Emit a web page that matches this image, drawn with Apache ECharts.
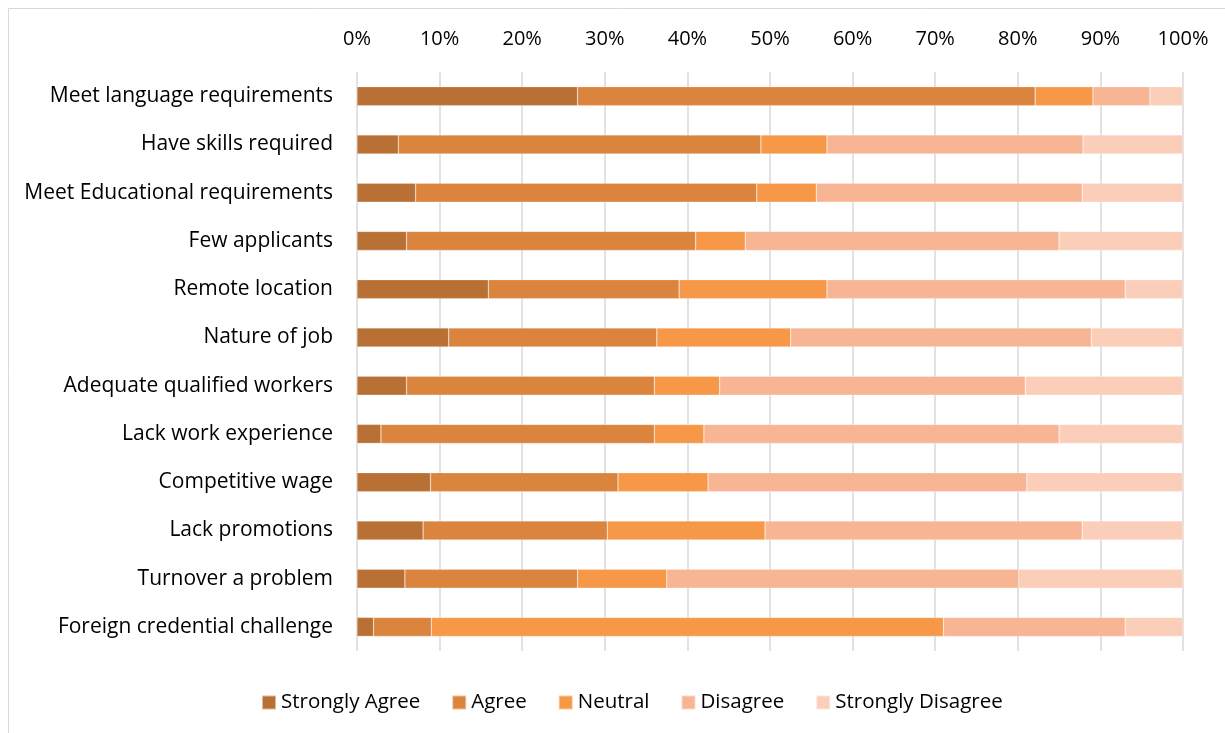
<!DOCTYPE html>
<html>
<head>
<meta charset="utf-8">
<script src="https://cdn.jsdelivr.net/npm/echarts@6/dist/echarts.min.js"></script>
<style>
  html, body { margin: 0; padding: 0; background: #fff; }
  #chart { width: 1225px; height: 733px; }
</style>
</head>
<body>
<div id="chart"></div>
<script>
const categories = [
  'Meet language requirements',
  'Have skills required',
  'Meet Educational requirements',
  'Few applicants',
  'Remote location',
  'Nature of job',
  'Adequate qualified workers',
  'Lack work experience',
  'Competitive wage',
  'Lack promotions',
  'Turnover a problem',
  'Foreign credential challenge',
];

const stronglyAgree = [26.7, 5.0, 7.1, 6.0, 15.9, 11.1, 6.0, 2.9, 8.9, 8.0, 5.8, 2.0];
const agree = [55.4, 43.9, 41.3, 35.0, 23.1, 25.2, 30.0, 33.1, 22.7, 22.3, 20.9, 7.0];
const neutral = [7.0, 8.0, 7.2, 6.0, 17.9, 16.2, 7.9, 6.0, 10.9, 19.1, 10.8, 62.0];
const disagree = [6.9, 31.0, 32.2, 38.0, 36.1, 36.4, 37.0, 43.0, 38.6, 38.4, 42.6, 22.0];
const stronglyDisagree = [4.0, 12.1, 12.2, 15.0, 7.0, 11.1, 19.1, 15.0, 18.9, 12.2, 19.9, 7.0];

const seriesNames = ['Strongly Agree', 'Agree', 'Neutral', 'Disagree', 'Strongly Disagree'];
const seriesData = [stronglyAgree, agree, neutral, disagree, stronglyDisagree];
const colors = ['#B97034', '#DB843E', '#F69848', '#F8B593', '#FBCEBA'];

const font = '"Open Sans", Lato, sans-serif';

const myChart = echarts.init(document.getElementById('chart'));

const option = {
  animation: false,
  color: colors,
  textStyle: { fontFamily: font },
  graphic: [{
    type: 'rect',
    shape: { x: 8.5, y: 8.5, width: 1400, height: 900 },
    style: { fill: 'none', stroke: '#D9D9D9', lineWidth: 1 },
    silent: true,
  }],
  legend: {
    bottom: 15,
    left: 256,
    itemWidth: 14,
    itemHeight: 14,
    itemGap: 31,
    icon: 'rect',
    textStyle: { fontSize: 20.5, color: '#000', fontFamily: font },
    data: seriesNames,
  },
  grid: {
    left: 357,
    right: 42,
    top: 72,
    bottom: 82,
  },
  xAxis: {
    type: 'value',
    position: 'top',
    min: 0,
    max: 100,
    interval: 10,
    axisLine: { show: false },
    axisTick: { show: false },
    axisLabel: {
      formatter: '{value}%',
      fontSize: 20,
      color: '#000',
      margin: 23,
    },
    splitLine: { lineStyle: { color: '#D9D9D9', width: 1.5 } },
  },
  yAxis: {
    type: 'category',
    inverse: true,
    data: categories,
    axisLine: { show: false },
    axisTick: { show: false },
    axisLabel: { fontSize: 21, color: '#000', margin: 24 },
  },
  series: seriesNames.map((name, i) => ({
    name,
    type: 'bar',
    stack: 'total',
    barWidth: 19,
    data: seriesData[i],
    itemStyle: { color: colors[i], borderColor: 'rgba(255,255,255,0.5)', borderWidth: 0.5 },
  })),
};

myChart.setOption(option);
</script>
</body>
</html>
